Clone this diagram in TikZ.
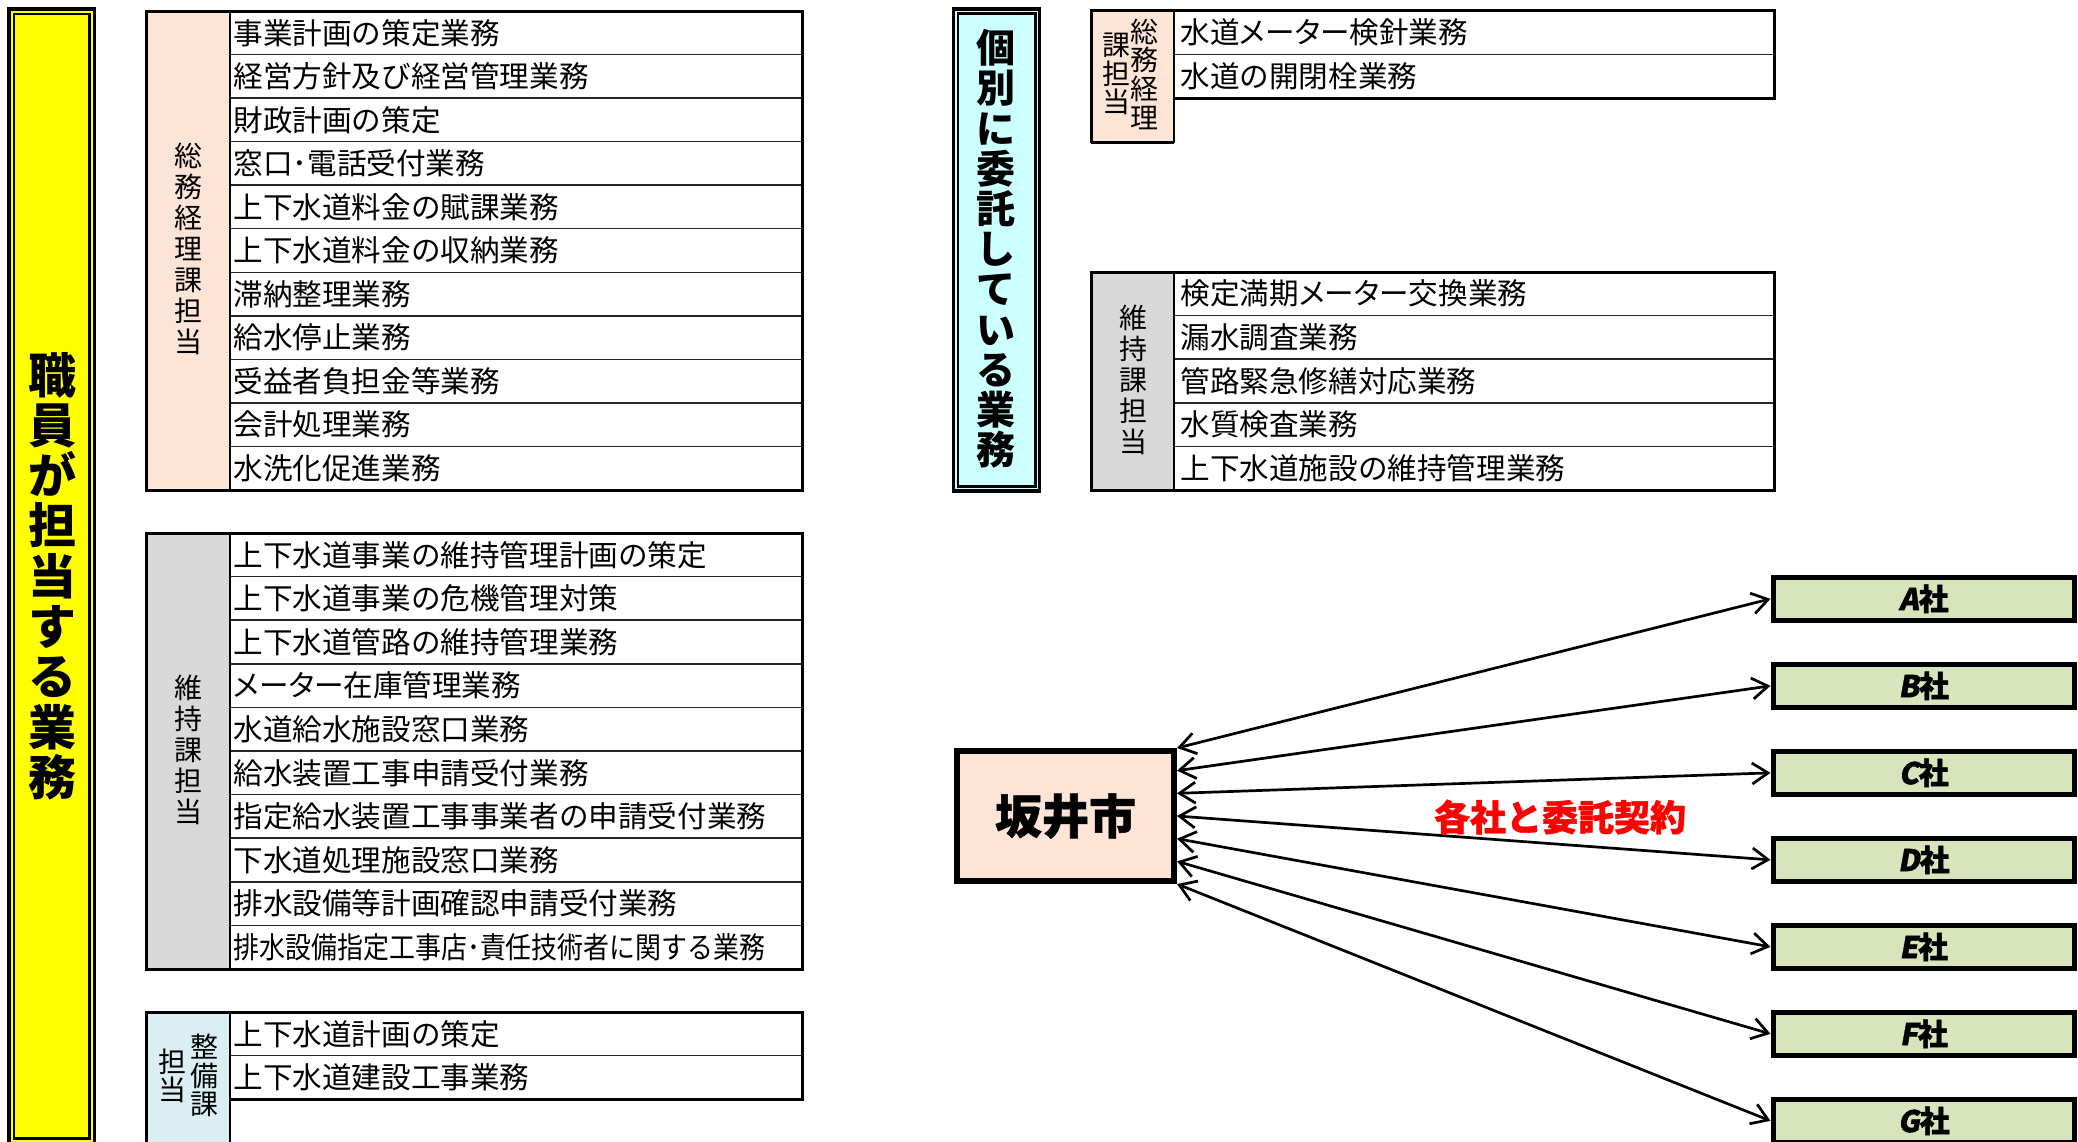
\documentclass[tikz,border=0pt]{standalone}
\usepackage{fontspec}
\usepackage{graphicx}
\newfontfamily\jp{Noto Sans CJK JP}
\newfontfamily\jpp[RawFeature=+palt]{Noto Sans CJK JP}
\newfontfamily\jpsl[FakeSlant=0.18,FakeBold=1.2]{Noto Sans CJK JP}
\newfontfamily\jph[FakeBold=1.2]{Noto Sans CJK JP}
\usetikzlibrary{arrows.meta,calc}
\definecolor{pinkfill}{HTML}{FCE4D6}
\definecolor{grayfill}{HTML}{D9D9D9}
\definecolor{bluefill}{HTML}{DAEEF3}
\definecolor{cyanfill}{HTML}{CCFFFF}
\definecolor{greenfill}{HTML}{D8E4BC}
\definecolor{yellowfill}{HTML}{FFFF00}
\definecolor{redtext}{HTML}{FF0000}
\newcommand\meter{{\jpp メーター}}
\tikzset{
  rowtext/.style={anchor=west, inner sep=0pt, font=\jp\fontsize{14.8pt}{16pt}\selectfont},
  vtext/.style={align=center, inner sep=0pt},
  frame/.style={line width=1.5pt, black},
  divider/.style={line width=1pt, black},
  rowline/.style={line width=0.75pt, black!85},
  company/.style={draw, line width=2.5pt, fill=greenfill, minimum width=150.75pt, minimum height=21.35pt, inner sep=0pt, font=\jph\bfseries\fontsize{15pt}{16pt}\selectfont},
  link/.style={line width=1.35pt, {Straight Barb[length=8pt,width=10.5pt]}-{Straight Barb[length=8pt,width=10.5pt]}}
}
\begin{document}
\begin{tikzpicture}[x=0.5pt,y=-0.5pt]
\useasboundingbox (0,0) rectangle (2078,1141);
\fill[white] (0,0) rectangle (2078,1141);

% ---------- yellow title box ----------
\fill[yellowfill] (9,9) rectangle (94.5,1150);
\draw[line width=1.9pt] (9.1,9.1) rectangle (94.5,1143.5);
\draw[line width=1.25pt] (14,14) rectangle (89.5,1138.5);
\node[vtext, font=\jp\bfseries\fontsize{24pt}{25.15pt}\selectfont] (staff) at (52,576) {職\\員\\が\\担\\当\\す\\る\\業\\務};

% ---------- left table 1 : 総務経理課担当 ----------
\fill[pinkfill] (146,11) rectangle (230,490);
\foreach \t [count=\i from 0] in {事業計画の策定業務,経営方針及び経営管理業務,財政計画の策定,窓口･電話受付業務,上下水道料金の賦課業務,上下水道料金の収納業務,滞納整理業務,給水停止業務,受益者負担金等業務,会計処理業務,水洗化促進業務}{
  \node[rowtext] (ga\i) at (233,{11+43.545*(\i+0.5)}) {\t};
}
\foreach \i in {1,...,10}{\draw[rowline] (230,{11+43.545*\i}) -- (802,{11+43.545*\i});}
\draw[divider] (230,11) -- (230,490);
\draw[frame] (146,11) rectangle (802,490);
\node[vtext, font=\jp\fontsize{14pt}{15.5pt}\selectfont] (gal) at (188,249) {総\\務\\経\\理\\課\\担\\当};

% ---------- left table 2 : 維持課担当 ----------
\fill[grayfill] (146,533) rectangle (230,969);
\foreach \t [count=\i from 0] in {上下水道事業の維持管理計画の策定,上下水道事業の危機管理対策,上下水道管路の維持管理業務,\meter 在庫管理業務,水道給水施設窓口業務,給水装置工事申請受付業務,指定給水装置工事事業者の申請受付業務,下水道処理施設窓口業務,排水設備等計画確認申請受付業務,\scalebox{0.877}[1]{排水設備指定工事店･責任技術者に関する業務}}{
  \node[rowtext] (gb\i) at (233,{533+43.6*(\i+0.5)}) {\t};
}
\foreach \i in {1,...,9}{\draw[rowline] (230,{533+43.6*\i}) -- (802,{533+43.6*\i});}
\draw[divider] (230,533) -- (230,969);
\draw[frame] (146,533) rectangle (802,969);
\node[vtext, font=\jp\fontsize{14pt}{15.5pt}\selectfont] (gbl) at (188,749.5) {維\\持\\課\\担\\当};

% ---------- left table 3 : 整備課担当 ----------
\fill[bluefill] (146,1012) rectangle (230,1160);
\foreach \t [count=\i from 0] in {上下水道計画の策定,上下水道建設工事業務}{
  \node[rowtext] (gc\i) at (233,{1012+43.6*(\i+0.5)}) {\t};
}
\draw[rowline] (230,1055.6) -- (802,1055.6);
\draw[frame] (146,1160) -- (146,1012) -- (802,1012) -- (802,1099.2) -- (230,1099.2);
\draw[divider] (230,1012) -- (230,1160);
\node[vtext, font=\jp\fontsize{14pt}{14.15pt}\selectfont] (gcl1) at (204,1075.5) {整\\備\\課};
\node[vtext, font=\jp\fontsize{14pt}{14.15pt}\selectfont] (gcl2) at (172.7,1076) {担\\当};

% ---------- cyan title box ----------
\fill[cyanfill] (953.3,9) rectangle (1039.7,491);
\draw[line width=1.7pt] (953.3,9) rectangle (1039.7,491);
\draw[line width=1.2pt] (957.8,13.5) rectangle (1035.5,486.5);
\node[vtext, font=\jp\bfseries\fontsize{19.5pt}{20.1pt}\selectfont] (outs) at (996,249) {個\\別\\に\\委\\託\\し\\て\\い\\る\\業\\務};

% ---------- right table 1 : 総務経理課担当 ----------
\fill[pinkfill] (1091,10.5) rectangle (1174,142.7);
\foreach \t [count=\i from 0] in {水道\meter 検針業務,水道の開閉栓業務}{
  \node[rowtext] (oa\i) at (1180,{10.5+43.9*(\i+0.5)}) {\t};
}
\draw[rowline] (1174,54.4) -- (1774,54.4);
\draw[frame] (1091,142.7) -- (1091,10.5) -- (1774,10.5) -- (1774,98.3) -- (1174,98.3);
\draw[frame] (1091,142.7) -- (1174,142.7);
\draw[divider] (1174,10.5) -- (1174,142.7);
\node[vtext, font=\jp\fontsize{14pt}{14.4pt}\selectfont] (oal1) at (1144,74.2) {総\\務\\経\\理};
\node[vtext, font=\jp\fontsize{14pt}{14.4pt}\selectfont] (oal2) at (1116,74) {課\\担\\当};

% ---------- right table 2 : 維持課担当 ----------
\fill[grayfill] (1091,272) rectangle (1174,490);
\foreach \t [count=\i from 0] in {検定満期\meter 交換業務,漏水調査業務,管路緊急修繕対応業務,水質検査業務,上下水道施設の維持管理業務}{
  \node[rowtext] (ob\i) at (1180,{272+43.6*(\i+0.5)}) {\t};
}
\foreach \i in {1,...,4}{\draw[rowline] (1174,{272+43.6*\i}) -- (1774,{272+43.6*\i});}
\draw[divider] (1174,272) -- (1174,490);
\draw[frame] (1091,272) rectangle (1774,490);
\node[vtext, font=\jp\fontsize{14pt}{15.5pt}\selectfont] (obl) at (1133,380) {維\\持\\課\\担\\当};

% ---------- city and companies ----------
\node[draw, line width=3pt, fill=pinkfill, minimum width=108.5pt, minimum height=65pt, inner sep=0pt,
      font=\jph\bfseries\fontsize{23.5pt}{25pt}\selectfont] (sakai) at (1065.5,816) {坂井市};

\foreach \l [count=\i from 0] in {A,B,C,D,E,F,G}{
  \node[company] (c\l) at (1923.75,{598.85+87*\i}) {{\jpsl\bfseries \l}社};
  \coordinate (s\l) at ($(sakai.north east)!{\i/6}!(sakai.south east)$);
  \draw[link] (s\l) -- (c\l.west);
}

\node[font=\jph\bfseries\fontsize{18pt}{20pt}\selectfont, text=redtext, inner sep=0pt] (contract) at (1560,817) {各社と委託契約};
\end{tikzpicture}
\end{document}
